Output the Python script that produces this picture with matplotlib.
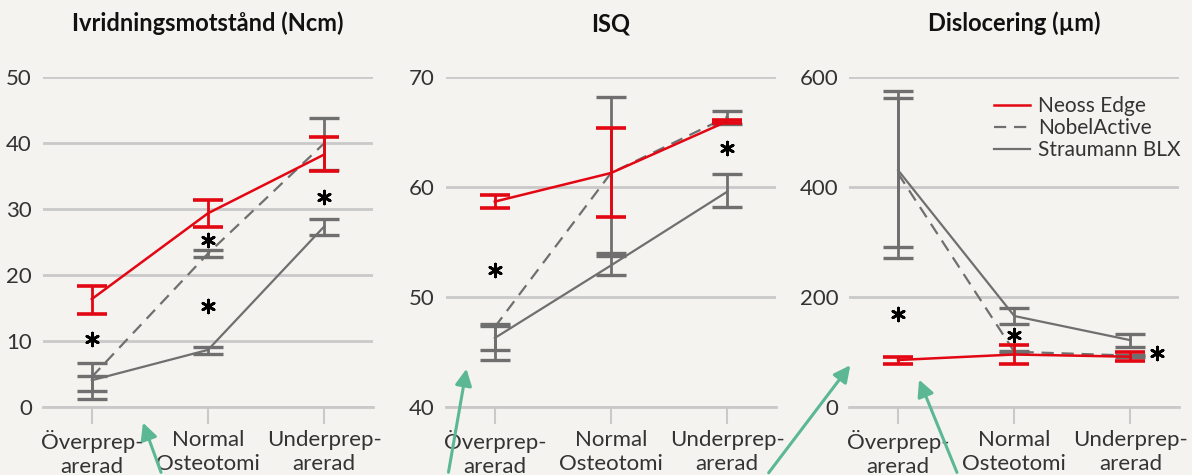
import numpy as np
import matplotlib.pyplot as plt

plt.rcParams['font.family'] = ['Lato', 'DejaVu Sans']

categories = ['Överprep-\narerad', 'Normal\nOsteotomi', 'Underprep-\narerad']
series = ['Neoss Edge', 'NobelActive', 'Straumann BLX']

titles = ['Ivridningsmotstånd (Ncm)', 'ISQ', 'Dislocering (µm)']

# Ivridningsmotstånd
torque_mean = {'Neoss Edge': [16.4, 29.4, 38.3],
               'NobelActive': [4.6, 23.3, 40.0],
               'Straumann BLX': [4.1, 8.7, 27.4]}
torque_low = {'Neoss Edge': [14.2, 27.3, 35.8],
              'NobelActive': [2.5, 22.7, 35.9],
              'Straumann BLX': [1.3, 8.1, 26.1]}
torque_high = {'Neoss Edge': [18.4, 31.4, 40.9],
               'NobelActive': [6.7, 23.9, 43.9],
               'Straumann BLX': [4.7, 9.2, 28.5]}
torque_star = [(0, 10.3), (1, 25.4), (1, 15.3), (2, 31.9)]

# ISQ
isq_mean = {'Neoss Edge': [58.7, 61.3, 66.0],
            'NobelActive': [47.3, 61.3, 66.4],
            'Straumann BLX': [46.3, 52.9, 59.6]}
isq_low = {'Neoss Edge': [58.1, 57.3, 65.85],
           'NobelActive': [44.3, 54.0, 65.8],
           'Straumann BLX': [45.2, 52.0, 58.2]}
isq_high = {'Neoss Edge': [59.3, 65.4, 66.15],
            'NobelActive': [47.4, 68.2, 66.9],
            'Straumann BLX': [47.6, 53.8, 61.2]}
isq_star = [(0, 52.5), (2, 63.6)]

# Dislocering
disl_mean = {'Neoss Edge': [86, 96, 92],
             'NobelActive': [425, 101, 94],
             'Straumann BLX': [431, 166, 122]}
disl_low = {'Neoss Edge': [79, 78, 84],
            'NobelActive': [272, 99, 92],
            'Straumann BLX': [292, 151, 109]}
disl_high = {'Neoss Edge': [92, 113, 100],
             'NobelActive': [562, 103, 96],
             'Straumann BLX': [575, 180, 133]}
disl_star = [(0, 169), (1, 131), (2.23, 98)]

yticks = [np.arange(0, 51, 10), np.arange(40, 71, 10), np.arange(0, 601, 200)]
ylims = [(0, 50), (40, 70), (0, 600)]

bg = '#f4f3ef'
red = '#e30613'
gray = '#6f6f6f'
grid = '#c9c9c9'
txt = '#333333'
styles = {'Neoss Edge': dict(color=red, ls='-', lw=1.8, capthick=2.6, elw=2.0),
          'NobelActive': dict(color=gray, ls=(0, (5.5, 3.5)), lw=1.6, capthick=2.4, elw=2.0),
          'Straumann BLX': dict(color=gray, ls='-', lw=1.6, capthick=2.4, elw=2.0)}

fig = plt.figure(figsize=(11.92, 4.75), dpi=100, facecolor=bg)
lefts = [43, 446, 849.3]
data = [(torque_mean, torque_low, torque_high, torque_star),
        (isq_mean, isq_low, isq_high, isq_star),
        (disl_mean, disl_low, disl_high, disl_star)]

x = np.arange(len(categories))
for i, (mean, low, high, stars) in enumerate(data):
    ax = fig.add_axes([lefts[i] / 1192, 1 - 407.3 / 475, 330 / 1192, 330 / 475])
    ax.set_facecolor(bg)
    for name in ['Straumann BLX', 'NobelActive', 'Neoss Edge']:
        st = styles[name]
        m = np.array(mean[name])
        yerr = [m - np.array(low[name]), np.array(high[name]) - m]
        ax.plot(x, m, color=st['color'], ls=st['ls'], lw=st['lw'], label=name,
                zorder=3, clip_on=False)
        ax.errorbar(x, m, yerr=yerr, fmt='none', ecolor=st['color'],
                    elinewidth=st['elw'], capsize=10.5, capthick=st['capthick'],
                    zorder=3, clip_on=False)
    for sx, sy in stars:
        ax.scatter(sx, sy, marker=(6, 2, 0), s=85, color='black', lw=2.0,
                   zorder=5, clip_on=False)
    ax.set_xlim(-0.42, 2.42)
    ax.set_ylim(*ylims[i])
    ax.set_yticks(yticks[i])
    ax.grid(axis='y', color=grid, lw=2)
    ax.set_axisbelow(True)
    for s in ['top', 'right', 'left']:
        ax.spines[s].set_visible(False)
    ax.spines['bottom'].set_color(grid)
    ax.spines['bottom'].set_linewidth(2)
    ax.set_xticks(x)
    ax.set_xticklabels(categories, fontsize=16, color=txt, linespacing=1.25)
    ax.tick_params(axis='x', length=12, width=1.5, color=grid, pad=4)
    ax.tick_params(axis='y', length=0, pad=8, labelsize=16, labelcolor=txt)
    ax.set_title(titles[i], fontsize=17, fontweight='bold', color='#111111', pad=33)
    if i == 2:
        handles, labels = ax.get_legend_handles_labels()
        order = [labels.index(n) for n in series]
        ax.legend([handles[k] for k in order], series, loc='upper right',
                  bbox_to_anchor=(1.06, 1.0), frameon=False, fontsize=15,
                  handlelength=1.7, handletextpad=0.4, labelspacing=0.1,
                  labelcolor=txt)

# green annotation arrows
arrows = [((162, 475), (142, 420)), ((448, 475), (467, 366)),
          ((767, 475), (852, 363)), ((958, 475), (918, 377))]
for (tx, ty), (hx, hy) in arrows:
    fig.add_artist(plt.matplotlib.patches.FancyArrowPatch(
        (tx / 1192, 1 - ty / 475), (hx / 1192, 1 - hy / 475),
        transform=fig.transFigure, arrowstyle='-|>,head_length=10,head_width=5',
        color='#5cb894', lw=2.2, mutation_scale=1))

fig.savefig('out.png', dpi=100, facecolor=bg)
